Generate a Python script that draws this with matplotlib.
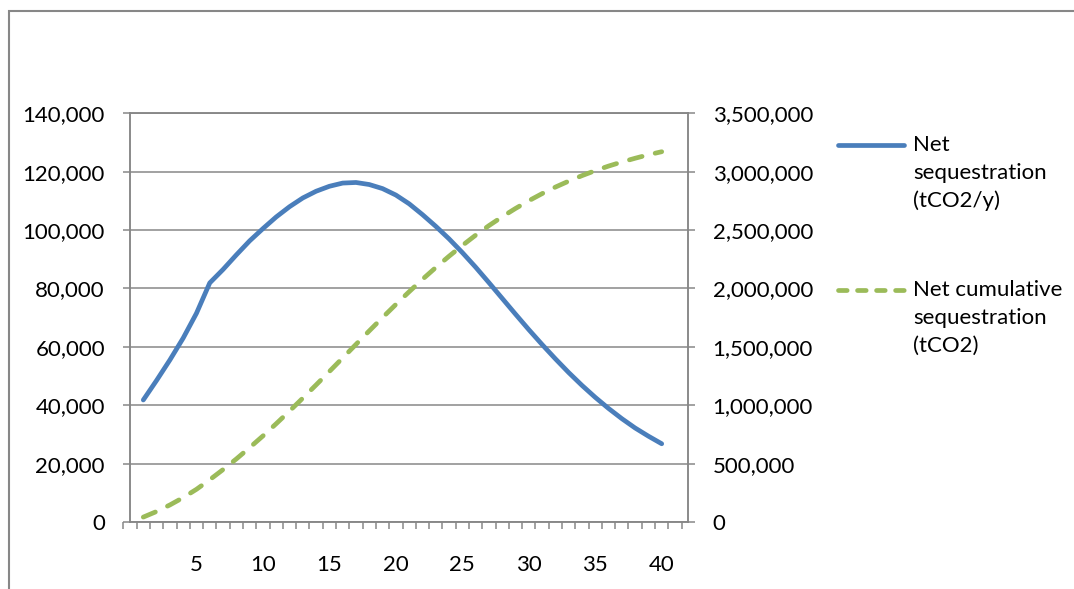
import numpy as np
import matplotlib
matplotlib.use("Agg")
from matplotlib import pyplot as plt
from matplotlib.lines import Line2D
from matplotlib.patches import Rectangle
from matplotlib.ticker import FuncFormatter, FixedLocator

plt.rcParams['font.family'] = ['Lato', 'DejaVu Sans']

years = list(range(1, 41))

# net sequestration per year (tCO2/y), left axis
net_seq = [41800, 48500, 55500, 63000, 71500, 81900, 86500, 91500, 96300, 100500,
           104500, 108000, 111000, 113300, 115000, 116100, 116300, 115600, 114200, 112000,
           109000, 105300, 101300, 97000, 92300, 87300, 82000, 76600, 71200, 65900,
           60800, 55900, 51200, 46800, 42700, 38900, 35400, 32200, 29400, 26800]

# net cumulative sequestration (tCO2), right axis
net_cum = [42000, 90000, 146000, 209000, 280000, 362000, 449000, 540000, 637000, 737000,
           842000, 950000, 1061000, 1174000, 1289000, 1405000, 1521000, 1637000, 1751000, 1863000,
           1972000, 2078000, 2179000, 2276000, 2368000, 2456000, 2538000, 2614000, 2685000, 2751000,
           2812000, 2868000, 2919000, 2966000, 3009000, 3048000, 3083000, 3115000, 3145000, 3171000]

x_labels = [5, 10, 15, 20, 25, 30, 35, 40]
left_ticks = list(range(0, 140001, 20000))
right_ticks = list(range(0, 3500001, 500000))

label_blue = ["Net", "sequestration", "(tCO2/y)"]
label_green = ["Net cumulative", "sequestration", "(tCO2)"]

BLUE = "#4A7EBB"
GREEN = "#9BBB59"
GREY = "#878787"
FS = 16
LW = 3.4

W, H = 1074, 589
fig = plt.figure(figsize=(W / 100, H / 100), dpi=100)

# outer chart frame
fig.add_artist(Rectangle((8.5 / W, -0.2), 2, 1.2 - 10.7 / H, transform=fig.transFigure,
                         fill=False, edgecolor=GREY, lw=1.5))

left, right, top, bottom = 130, 688.3, 113.3, 522
rect = [left / W, 1 - bottom / H, (right - left) / W, (bottom - top) / H]

# axes that only carries the category tick marks / labels
step = (right - left) / 42
tax = fig.add_axes([(left - 0.5 * step) / W, rect[1], 43 * step / W, rect[3]])
tax.set_xlim(-0.5, 42.5)
tax.patch.set_visible(False)
for s in tax.spines.values():
    s.set_visible(False)
tax.set_yticks([])
tax.xaxis.set_major_locator(FixedLocator(x_labels))
tax.xaxis.set_minor_locator(FixedLocator(np.arange(-0.5, 42, 1)))
tax.tick_params(axis='x', which='major', length=0, pad=24, labelsize=FS)
tax.tick_params(axis='x', which='minor', length=5, width=1.1, color=GREY, direction='out')

ax = fig.add_axes(rect)
ax.patch.set_visible(False)
ax.set_xlim(0, 42)
ax.set_ylim(0, 140000)
ax.set_xticks([])
ax.set_yticks(left_ticks)
ax.yaxis.set_major_formatter(FuncFormatter(lambda v, p: f"{v:,.0f}"))
ax.grid(axis='y', color=GREY, lw=1.1)
ax.set_axisbelow(True)
ax.tick_params(axis='y', length=5, width=1.1, color=GREY, pad=13, labelsize=FS)
for s in ax.spines.values():
    s.set_color(GREY)
    s.set_linewidth(1.1)

ax.plot(years, net_seq, color=BLUE, lw=LW, solid_capstyle='round', solid_joinstyle='round')

ax2 = ax.twinx()
ax2.set_ylim(0, 3500000)
ax2.set_yticks(right_ticks)
ax2.yaxis.set_major_formatter(FuncFormatter(lambda v, p: f"{v:,.0f}"))
ax2.tick_params(axis='y', length=5, width=1.1, color=GREY, pad=12.5, labelsize=FS)
for s in ax2.spines.values():
    s.set_color(GREY)
    s.set_linewidth(1.1)

ax2.plot(years, net_cum, color=GREEN, lw=LW, dashes=(2.77, 2.85), dash_capstyle='round')

# legend
def legend_entry(y, labels, **kw):
    fig.add_artist(Line2D([838 / W, 904 / W], [1 - y / H] * 2, transform=fig.transFigure, lw=LW, **kw))
    for i, t in enumerate(labels):
        fig.text(913 / W, 1 - (y + i * 28) / H, t, va='center', ha='left', fontsize=FS)

legend_entry(145, label_blue, color=BLUE, solid_capstyle='round')
legend_entry(290, label_green, color=GREEN, dashes=(1.83, 2.2), dash_capstyle='round')

fig.savefig("out.png", dpi=100)
